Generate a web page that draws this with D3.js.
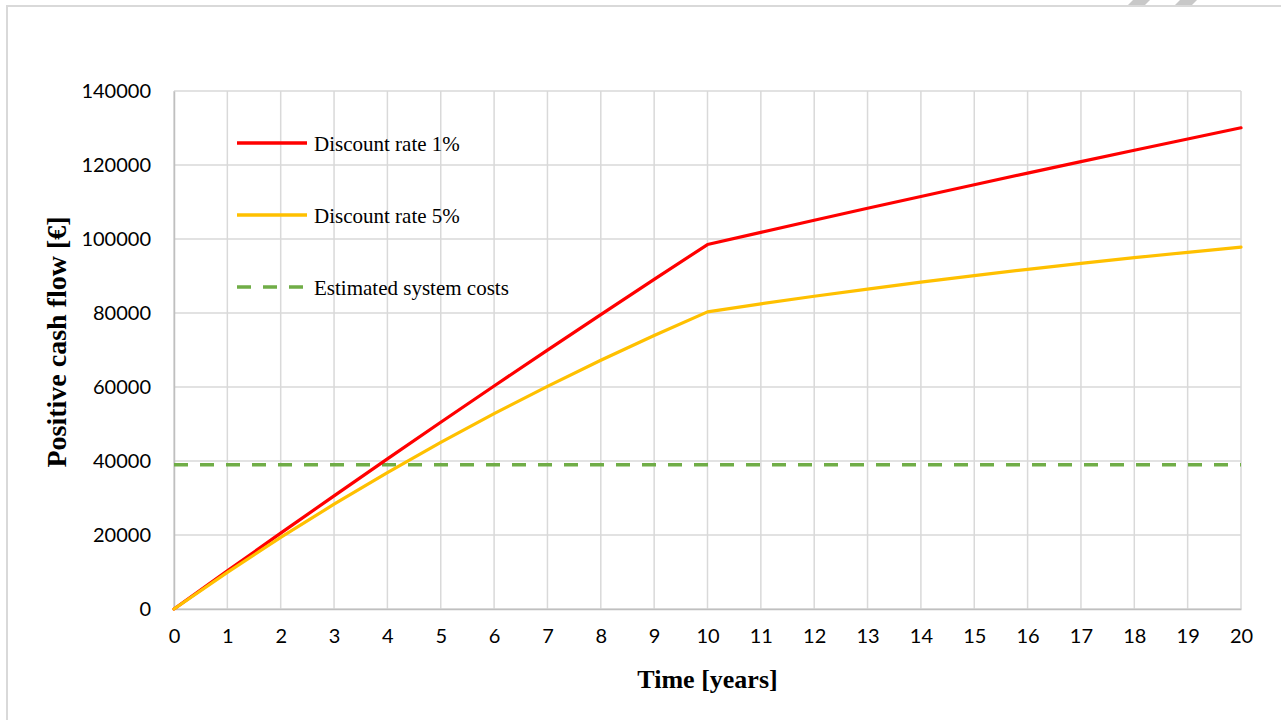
<!DOCTYPE html>
<html>
<head>
<meta charset="utf-8">
<script src="https://cdn.jsdelivr.net/npm/d3@7"></script>
<style>
  body { margin: 0; background: #fff; }
  svg { display: block; }
</style>
</head>
<body>
<div id="chart"></div>
<script>
// Years on the x axis
const years = [0, 1, 2, 3, 4, 5, 6, 7, 8, 9, 10, 11, 12, 13, 14, 15, 16, 17, 18, 19, 20];

// Cumulative positive cash flow [€]
const rate1 = [0, 10297, 20492, 30586, 40580, 50476, 60273, 69973, 79577, 89087, 98502,
               101800, 105066, 108299, 111501, 114671, 117809, 120916, 123993, 127039, 130055];
const rate5 = [0, 9905, 19338, 28322, 36878, 45027, 52787, 60178, 67217, 73921, 80306,
               82463, 84518, 86475, 88339, 90114, 91804, 93414, 94947, 96408, 97798];
const systemCost = 39000;

const yTicks = [0, 20000, 40000, 60000, 80000, 100000, 120000, 140000];

const series = [
    { name: "Discount rate 1%", values: rate1, color: "#ff0000" },
    { name: "Discount rate 5%", values: rate5, color: "#ffc000" }
];
const legendItems = [
    { name: "Discount rate 1%", color: "#ff0000", dash: null },
    { name: "Discount rate 5%", color: "#ffc000", dash: null },
    { name: "Estimated system costs", color: "#70ad47", dash: "14 12" }
];

const W = 1281, H = 720;
const margin = { top: 91, right: 40, bottom: 111, left: 174 };
const width = W - margin.left - margin.right;
const height = H - margin.top - margin.bottom;

const svg = d3.select("#chart").append("svg")
    .attr("width", W)
    .attr("height", H);

// outer frame of the chart object
svg.append("path")
    .attr("d", `M7,${H + 5} V6 H${W + 5}`)
    .attr("fill", "none")
    .attr("stroke", "#d9d9d9")
    .attr("stroke-width", 2);

// the grey slanted bits in the top right corner
svg.selectAll(".corner")
    .data([1128, 1175])
    .enter().append("polygon")
    .attr("points", d => `${d + 5},0 ${d + 22},0 ${d + 17},5 ${d},5`)
    .attr("fill", "#c8c8c8");

const g = svg.append("g")
    .attr("transform", `translate(${margin.left},${margin.top})`);

const x = d3.scaleLinear().domain([0, 20]).range([0, width]);
const y = d3.scaleLinear().domain([0, 140000]).range([height, 0]);

// grid
g.append("g").selectAll("line")
    .data(years)
    .enter().append("line")
    .attr("x1", d => x(d)).attr("x2", d => x(d))
    .attr("y1", 0).attr("y2", height)
    .attr("stroke", "#d9d9d9")
    .attr("stroke-width", 1.5);

g.append("g").selectAll("line")
    .data(yTicks)
    .enter().append("line")
    .attr("x1", 0).attr("x2", width)
    .attr("y1", d => y(d)).attr("y2", d => y(d))
    .attr("stroke", "#d9d9d9")
    .attr("stroke-width", 1.5);

// axes
const xAxis = g.append("g")
    .attr("transform", `translate(0,${height})`)
    .call(d3.axisBottom(x).tickValues(years).tickSize(0).tickPadding(20).tickFormat(d3.format("d")));
const yAxis = g.append("g")
    .call(d3.axisLeft(y).tickValues(yTicks).tickSize(0).tickPadding(23).tickFormat(d3.format("d")));

[xAxis, yAxis].forEach(a => {
    a.select(".domain").attr("stroke", "#bfbfbf").attr("stroke-width", 1.5);
    a.selectAll("text")
        .attr("font-family", "Lato, 'Open Sans', sans-serif")
        .attr("font-size", 20)
        .attr("fill", "#000");
});

// estimated system costs
g.append("line")
    .attr("x1", x(0)).attr("x2", x(20))
    .attr("y1", y(systemCost)).attr("y2", y(systemCost))
    .attr("stroke", "#70ad47")
    .attr("stroke-width", 3.5)
    .attr("stroke-dasharray", "14 12");

const line = d3.line()
    .x((d, i) => x(years[i]))
    .y(d => y(d));

g.selectAll(".series")
    .data(series)
    .enter().append("path")
    .attr("class", "series")
    .attr("d", d => line(d.values))
    .attr("fill", "none")
    .attr("stroke", d => d.color)
    .attr("stroke-width", 3.2)
    .attr("stroke-linejoin", "round")
    .attr("stroke-linecap", "round");

// legend
const legend = g.append("g")
    .attr("transform", `translate(${237 - margin.left},${143 - margin.top})`);

const item = legend.selectAll(".item")
    .data(legendItems)
    .enter().append("g")
    .attr("transform", (d, i) => `translate(0,${i * 72})`);

item.append("line")
    .attr("x1", 0).attr("x2", 70)
    .attr("stroke", d => d.color)
    .attr("stroke-width", 3.5)
    .attr("stroke-dasharray", d => d.dash);

item.append("text")
    .attr("x", 77)
    .attr("y", 8)
    .attr("font-family", "'Liberation Serif', 'Times New Roman', serif")
    .attr("font-size", 21)
    .text(d => d.name);

// axis titles
svg.append("text")
    .attr("x", margin.left + width / 2)
    .attr("y", 688)
    .attr("text-anchor", "middle")
    .attr("font-family", "'Liberation Serif', 'Times New Roman', serif")
    .attr("font-weight", "bold")
    .attr("font-size", 26)
    .text("Time [years]");

svg.append("text")
    .attr("transform", `translate(66,${margin.top + height / 2 - 8}) rotate(-90)`)
    .attr("text-anchor", "middle")
    .attr("font-family", "'Liberation Serif', 'Times New Roman', serif")
    .attr("font-weight", "bold")
    .attr("font-size", 28)
    .text("Positive cash flow [€]");
</script>
</body>
</html>
